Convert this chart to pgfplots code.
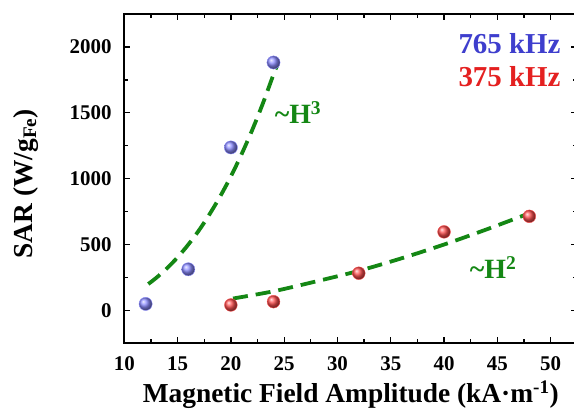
\documentclass[border=0pt]{standalone}
\usepackage{fontspec}
\setmainfont{Liberation Serif}
\usepackage{pgfplots}
\pgfplotsset{compat=1.18}
\definecolor{fitgreen}{RGB}{20,135,20}
\definecolor{bblue}{RGB}{140,140,255}
\definecolor{rred}{RGB}{255,80,80}
\definecolor{tblue}{RGB}{62,62,205}
\definecolor{tred}{RGB}{228,32,32}
\begin{document}
\begin{tikzpicture}
\begin{axis}[
  at={(0,0)}, anchor=south west,
  scale only axis, width=453bp, height=329.3bp,
  xmin=10, xmax=52.5, ymin=-250, ymax=2250,
  xtick={10,15,...,50}, ytick={0,500,...,2000},
  minor x tick num=1, minor y tick num=1,
  tick align=inside, xtick pos=both, ytick pos=both,
  xticklabel pos=lower, yticklabel pos=left,
  major tick length=6bp, minor tick length=4bp,
  axis line style={line width=1.6bp},
  every tick/.style={black, line width=1.3bp},
  /pgf/number format/assume math mode=true,
  /pgf/number format/1000 sep={},
  tick label style={font=\fontsize{21}{21}\selectfont\bfseries, inner sep=0pt},
  xticklabel style={anchor=base, yshift=-26.7bp},
  yticklabel style={anchor=east, xshift=-12.6bp},
  xlabel={Magnetic Field Amplitude (kA\textperiodcentered m\textsuperscript{-1})},
  ylabel={SAR (W/g\textsubscript{Fe})},
  every axis x label/.style={at={(axis description cs:0.5,0)}, anchor=base, yshift=-59.2bp, font=\fontsize{27.5}{27.5}\selectfont\bfseries, inner sep=0pt},
  every axis y label/.style={at={(axis description cs:-0.218,0.485)}, rotate=90, anchor=center, font=\fontsize{27.5}{27.5}\selectfont\bfseries, inner sep=0pt},
  clip=false,
]
% fitted curves
\addplot[fitgreen, line width=3.8bp, dash pattern=on 15bp off 8bp, smooth] coordinates {
 (12.25,200) (13,247) (14,319) (15,403) (16,499) (17,607) (18,730) (19,866)
 (20,1017) (21,1185) (22,1369) (23,1571) (24,1791) (24.4,1870)
};
\addplot[fitgreen, line width=3.8bp, dash pattern=on 15bp off 8bp, smooth] coordinates {
 (20.2,90) (24,145) (28,220) (32,300) (36,395) (40,500) (44,615) (48.1,740)
};
% data
\addplot[only marks, mark=ball, mark size=6.6bp, color=bblue, mark options={ball color=bblue}] coordinates {
 (12,49) (16,312) (20,1237) (24,1882)
};
\addplot[only marks, mark=ball, mark size=6.4bp, color=rred, mark options={ball color=rred}] coordinates {
 (20,41) (24,66) (32,282) (40,596) (48,714)
};
\node[anchor=west, inner sep=0pt, text=fitgreen, font=\fontsize{28}{28}\selectfont\bfseries] at (axis cs:24.1,1503) {\textasciitilde H\textsuperscript{3}};
\node[anchor=west, inner sep=0pt, text=fitgreen, font=\fontsize{28}{28}\selectfont\bfseries] at (axis cs:42.4,322) {\textasciitilde H\textsuperscript{2}};
\node[anchor=east, inner sep=0pt, text=tblue, font=\fontsize{29}{29}\selectfont\bfseries] at (axis cs:50.94,2025) {765 kHz};
\node[anchor=east, inner sep=0pt, text=tred, font=\fontsize{29}{29}\selectfont\bfseries] at (axis cs:50.94,1774) {375 kHz};
\end{axis}
\pgfresetboundingbox
\useasboundingbox (-124.3bp,-65.7bp) rectangle (449.7bp,343.3bp);
\end{tikzpicture}
\end{document}
